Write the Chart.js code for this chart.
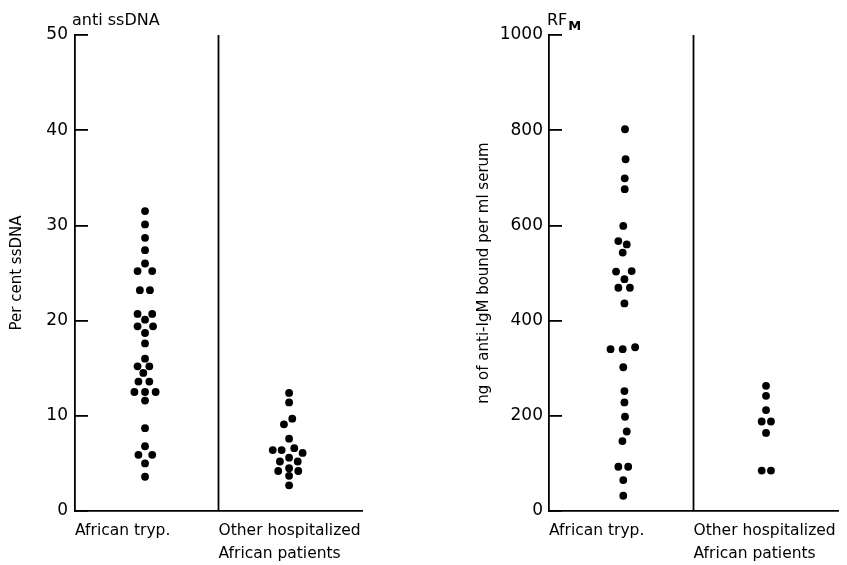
<!DOCTYPE html>
<html>
<head>
<meta charset="utf-8">
<script src="https://cdn.jsdelivr.net/npm/chart.js@4.4.0/dist/chart.umd.min.js"></script>
<style>
  body { margin: 0; background: #fff; width: 847px; height: 565px; overflow: hidden; position: relative; }
  #left { position: absolute; left: 0; top: 0; width: 400px; height: 565px; }
  #right { position: absolute; left: 450px; top: 0; width: 397px; height: 565px; }
</style>
</head>
<body>
<div id="left"><canvas id="c1"></canvas></div>
<div id="right"><canvas id="c2"></canvas></div>
<script>
// group labels, placed under the start of each half of the x axis
const groupLabels = ['African tryp.', ['Other hospitalized', 'African patients']];
const groupStarts = [0, 5];
const dividerX = 5;

// anti ssDNA, per cent, African trypanosomiasis
const ssdnaTrypVals = [31.5, 30.1, 28.7, 27.4, 26.0, 25.2, 25.2, 23.2, 23.2, 20.7, 20.7, 20.1, 19.4, 19.4, 18.7, 17.6,
  16.0, 15.2, 15.2, 14.5, 13.6, 13.6, 12.5, 12.5, 12.5, 11.6, 8.7, 6.8, 5.9, 5.9, 5.0, 3.6];
const ssdnaTrypX = [2.44, 2.44, 2.44, 2.44, 2.44, 2.18, 2.69, 2.26, 2.61, 2.18, 2.69, 2.44, 2.18, 2.72, 2.44, 2.44,
  2.44, 2.18, 2.59, 2.38, 2.21, 2.59, 2.07, 2.44, 2.81, 2.44, 2.44, 2.44, 2.21, 2.69, 2.44, 2.44];
// anti ssDNA, other hospitalized African patients
const ssdnaOtherVals = [12.4, 11.4, 9.7, 9.1, 7.6, 6.4, 6.4, 6.6, 6.1, 5.6, 5.2, 5.2, 4.5, 4.2, 4.2, 3.7, 2.7];
const ssdnaOtherX = [7.46, 7.46, 7.57, 7.28, 7.46, 6.89, 7.20, 7.64, 7.93, 7.46, 7.14, 7.76, 7.46, 7.08, 7.78, 7.46, 7.46];

// RF (IgM), ng anti-IgM bound per ml serum
const rfTrypVals = [802, 739, 699, 676, 599, 567, 560, 543, 503, 504, 487, 469, 469, 436, 340, 340, 344, 302, 252, 228,
  198, 167, 147, 93, 93, 65, 32];
const rfTrypX = [2.63, 2.65, 2.62, 2.62, 2.57, 2.40, 2.69, 2.55, 2.32, 2.86, 2.61, 2.40, 2.80, 2.61, 2.13, 2.55, 2.98,
  2.57, 2.61, 2.61, 2.63, 2.69, 2.54, 2.40, 2.74, 2.57, 2.57];
const rfOtherVals = [263, 242, 212, 188, 188, 164, 85, 85];
const rfOtherX = [7.51, 7.51, 7.51, 7.36, 7.68, 7.51, 7.36, 7.68];

const ink = '#000';
Chart.defaults.font.family = '"DejaVu Sans", sans-serif';
Chart.defaults.color = ink;

function pts(xs, ys) {
  return ys.map((v, i) => ({ x: xs[i], y: v }));
}

// heading above the y axis, with an optional subscript
const headingPlugin = {
  id: 'heading',
  afterDraw(chart, args, opts) {
    const ctx = chart.ctx;
    const x = chart.chartArea.left + opts.dx;
    ctx.save();
    ctx.fillStyle = ink;
    ctx.textBaseline = 'alphabetic';
    ctx.font = '16px "DejaVu Sans"';
    ctx.fillText(opts.text, x, opts.y);
    if (opts.sub) {
      const w = ctx.measureText(opts.text).width;
      ctx.font = 'bold 13px "DejaVu Sans"';
      ctx.fillText(opts.sub, x + w + 1, opts.y + 5);
    }
    ctx.restore();
  }
};

function makeChart(id, cfg) {
  return new Chart(document.getElementById(id), {
    type: 'scatter',
    data: {
      datasets: [
        { data: pts(cfg.xa, cfg.ya), backgroundColor: ink, borderWidth: 0, pointRadius: 3.9 },
        { data: pts(cfg.xb, cfg.yb), backgroundColor: ink, borderWidth: 0, pointRadius: 3.9 },
        { data: [{ x: dividerX, y: 0 }, { x: dividerX, y: cfg.max }], showLine: true,
          borderColor: ink, borderWidth: 1.8, pointRadius: 0 }
      ]
    },
    options: {
      responsive: true,
      maintainAspectRatio: false,
      animation: false,
      layout: { padding: { left: 0, right: cfg.padRight, top: 35, bottom: 0 } },
      plugins: {
        legend: { display: false },
        tooltip: { enabled: false },
        heading: cfg.heading
      },
      scales: {
        x: {
          type: 'linear', min: 0, max: 10,
          afterBuildTicks: s => { s.ticks = groupStarts.map(v => ({ value: v })); },
          ticks: {
            align: 'start', autoSkip: false, maxRotation: 0, minRotation: 0, padding: 8,
            font: { size: 15.5, lineHeight: 1.5 },
            callback: (v, i) => groupLabels[i]
          },
          grid: { drawOnChartArea: false, drawTicks: false },
          border: { display: true, color: ink, width: 1.8 },
          afterFit: s => { s.height = 54; s.paddingLeft = 0; s.paddingRight = 0; }
        },
        y: {
          min: 0, max: cfg.max,
          ticks: { stepSize: cfg.step, padding: cfg.tickPad, font: { size: 17 }, callback: v => String(v) },
          grid: { drawOnChartArea: false, drawTicks: true, tickLength: -13, color: ink, lineWidth: 1.8 },
          border: { display: true, color: ink, width: 1.8 },
          title: { display: true, text: cfg.yTitle, font: { size: 15 }, padding: { top: cfg.titlePad, bottom: 0 } },
          afterFit: s => { s.width = cfg.axisW; s.paddingTop = 0; s.paddingBottom = 0; }
        }
      }
    },
    plugins: [headingPlugin]
  });
}

makeChart('c1', {
  xa: ssdnaTrypX, ya: ssdnaTrypVals, xb: ssdnaOtherX, yb: ssdnaOtherVals,
  max: 50, step: 10, axisW: 75, padRight: 38, tickPad: 20, titlePad: 8,
  yTitle: 'Per cent ssDNA',
  heading: { text: 'anti ssDNA', dx: -3, y: 25 }
});

makeChart('c2', {
  xa: rfTrypX, ya: rfTrypVals, xb: rfOtherX, yb: rfOtherVals,
  max: 1000, step: 200, axisW: 99, padRight: 9, tickPad: 19, titlePad: 25,
  yTitle: 'ng of anti-IgM bound per ml serum',
  heading: { text: 'RF', sub: 'M', dx: -2, y: 25 }
});
</script>
</body>
</html>
